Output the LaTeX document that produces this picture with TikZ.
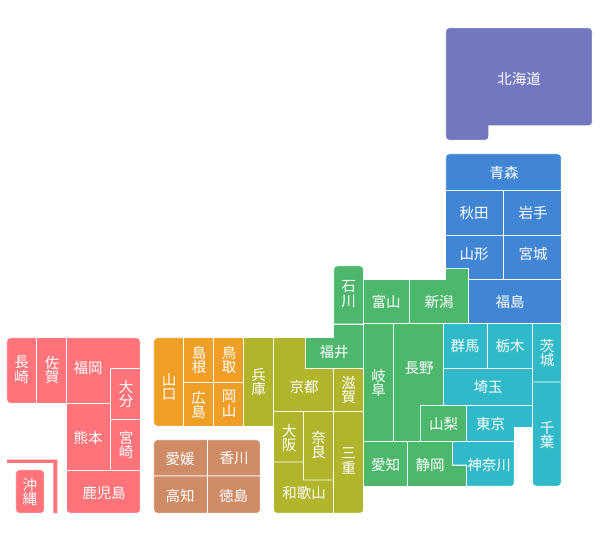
\documentclass[tikz,border=0pt]{standalone}
\usepackage{fontspec}
\setmainfont{Noto Sans CJK JP}
\definecolor{hk}{HTML}{7277C0}
\definecolor{th}{HTML}{4186D5}
\definecolor{cb}{HTML}{4DB86C}
\definecolor{kt}{HTML}{30BAC9}
\definecolor{kk}{HTML}{B0B52C}
\definecolor{cg}{HTML}{EF9E26}
\definecolor{sk}{HTML}{CE8B66}
\definecolor{ks}{HTML}{FF7379}
\tikzset{
  lab/.style={text=white,font=\fontsize{14.5}{14.5}\selectfont,align=center,inner sep=0pt},
  reg/.style={fill=#1,draw=white,line width=0.9pt},
}
\newcommand{\prect}[5]{\path[reg=#1] (#2,#3) rectangle (#4,#5);}
\begin{document}
\begin{tikzpicture}[x=1pt,y=-1pt]
\useasboundingbox (0,0) rectangle (600,543);
% Hokkaido
\path[reg=hk] (445.7,35) .. controls (445.7,27.7) .. (453,27.7) -- (585,27.7) .. controls (592.3,27.7) .. (592.3,35) -- (592.3,118.5) .. controls (592.3,125.8) .. (585,125.8) -- (488.8,125.8) -- (488.8,133) .. controls (488.8,140.3) .. (481.5,140.3) -- (453,140.3) .. controls (445.7,140.3) .. (445.7,133) -- cycle;
% Tohoku
\path[reg=th] (445.7,161) .. controls (445.7,153.7) .. (453,153.7) -- (554,153.7) .. controls (561.3,153.7) .. (561.3,161) -- (561.3,190.5) -- (445.7,190.5) -- cycle;
\prect{th}{445.7}{190.5}{503.5}{235}
\prect{th}{503.5}{190.5}{561.3}{235}
\path[reg=th] (445.7,235) -- (503.5,235) -- (503.5,279) -- (468,279) -- (468,268) -- (445.7,268) -- cycle;
\prect{th}{503.5}{235}{561.3}{279}
\prect{th}{468}{279}{561.3}{323.5}
% Chubu
\path[reg=cb] (333.7,273) .. controls (333.7,265.7) .. (341,265.7) -- (356,265.7) .. controls (363.5,265.7) .. (363.5,273) -- (363.5,324) -- (333.7,324) -- cycle;
\prect{cb}{363.5}{279.7}{409}{323.5}
\path[reg=cb] (409,279.7) -- (445.7,279.7) -- (445.7,268) -- (468,268) -- (468,323.5) -- (409,323.5) -- cycle;
\path[reg=cb] (305,337.7) -- (333.7,337.7) -- (333.7,324) -- (363.5,324) -- (363.5,368) -- (305,368) -- cycle;
\prect{cb}{363.5}{323.5}{393.5}{441.5}
\path[reg=cb] (393.5,323.5) -- (443.5,323.5) -- (443.5,405) -- (420,405) -- (420,441.5) -- (393.5,441.5) -- cycle;
\prect{cb}{420}{405}{466.5}{441.5}
\prect{cb}{363.5}{441.5}{407.5}{486.3}
\path[reg=cb] (407.5,441.5) -- (452.5,441.5) -- (452.5,465) -- (466.5,465) -- (466.5,486.3) -- (407.5,486.3) -- cycle;
% Kanto
\prect{kt}{443.5}{323.5}{487.5}{368}
\prect{kt}{487.5}{323.5}{532}{368}
\prect{kt}{443.5}{368}{532}{405}
\path[reg=kt] (466.5,405) -- (532,405) -- (532,427) -- (514.3,427) -- (514.3,441.5) -- (466.5,441.5) -- cycle;
\path[reg=kt] (452.5,441.5) -- (514.3,441.5) -- (514.3,479.5) .. controls (514.3,486.3) .. (507.5,486.3) -- (466.5,486.3) -- (466.5,465) -- (452.5,465) -- cycle;
\prect{kt}{532.5}{323.5}{561.3}{382}
\path[reg=kt] (532.5,382) -- (561.3,382) -- (561.3,478) .. controls (561.3,486.3) .. (553,486.3) -- (540.5,486.3) .. controls (532.5,486.3) .. (532.5,478) -- cycle;
% Kinki
\prect{kk}{243.5}{337.7}{273.5}{426.3}
\path[reg=kk] (273.5,337.7) -- (305,337.7) -- (305,368) -- (333.5,368) -- (333.5,411.5) -- (273.5,411.5) -- cycle;
\prect{kk}{333.5}{368}{363.5}{411.5}
\prect{kk}{273.5}{411.5}{303.5}{462}
\prect{kk}{303.5}{411.5}{333.5}{480}
\path[reg=kk] (273.5,462) -- (303.5,462) -- (303.5,480) -- (333.5,480) -- (333.5,513.3) -- (280.5,513.3) .. controls (273.5,513.3) .. (273.5,506) -- cycle;
\path[reg=kk] (333.5,411.5) -- (363.5,411.5) -- (363.5,506) .. controls (363.5,513.3) .. (356.5,513.3) -- (333.5,513.3) -- cycle;
% Chugoku
\path[reg=cg] (153.7,345) .. controls (153.7,337.7) .. (161,337.7) -- (183.5,337.7) -- (183.5,426.3) -- (161,426.3) .. controls (153.7,426.3) .. (153.7,419) -- cycle;
\prect{cg}{183.5}{337.7}{213.5}{382}
\prect{cg}{213.5}{337.7}{243.5}{382}
\prect{cg}{183.5}{382}{213.5}{426.3}
\prect{cg}{213.5}{382}{243.5}{426.3}
% Shikoku
\path[reg=sk] (153.7,447) .. controls (153.7,439.7) .. (161,439.7) -- (207.5,439.7) -- (207.5,476) -- (153.7,476) -- cycle;
\path[reg=sk] (207.5,439.7) -- (253,439.7) .. controls (260.3,439.7) .. (260.3,447) -- (260.3,476) -- (207.5,476) -- cycle;
\path[reg=sk] (153.7,476) -- (207.5,476) -- (207.5,513.3) -- (161,513.3) .. controls (153.7,513.3) .. (153.7,506) -- cycle;
\path[reg=sk] (207.5,476) -- (260.3,476) -- (260.3,506) .. controls (260.3,513.3) .. (253,513.3) -- (207.5,513.3) -- cycle;
% Kyushu
\path[reg=ks] (6.7,345) .. controls (6.7,337.7) .. (14,337.7) -- (36.5,337.7) -- (36.5,403.3) -- (14,403.3) .. controls (6.7,403.3) .. (6.7,396) -- cycle;
\prect{ks}{36.5}{337.7}{66.5}{403.3}
\path[reg=ks] (66.5,337.7) -- (133,337.7) .. controls (140.3,337.7) .. (140.3,345) -- (140.3,368.5) -- (110.5,368.5) -- (110.5,403.5) -- (66.5,403.5) -- cycle;
\prect{ks}{110.5}{368.5}{140.3}{419.5}
\prect{ks}{66.5}{403.5}{110.5}{470.5}
\prect{ks}{110.5}{419.5}{140.3}{470.5}
\path[reg=ks] (66.5,470.5) -- (140.3,470.5) -- (140.3,506) .. controls (140.3,513.3) .. (133,513.3) -- (73.5,513.3) .. controls (66.5,513.3) .. (66.5,506) -- cycle;
\path[reg=ks] (23,469.7) -- (37,469.7) .. controls (44.3,469.7) .. (44.3,477) -- (44.3,506) .. controls (44.3,513.3) .. (37,513.3) -- (23,513.3) .. controls (15.7,513.3) .. (15.7,506) -- (15.7,477) .. controls (15.7,469.7) .. (23,469.7) -- cycle;
\fill[ks] (7,459.5) -- (57.3,459.5) -- (57.3,513) -- (53.3,513) -- (53.3,462.8) -- (7,462.8) -- cycle;
% Labels
\node[lab] (hokkaido) at (519,79) {北海道};
\node[lab] (aomori) at (504,173) {青森};
\node[lab] (akita) at (474,213) {秋田};
\node[lab] (iwate) at (533,213) {岩手};
\node[lab] (yamagata) at (474,254) {山形};
\node[lab] (miyagi) at (533,254) {宮城};
\node[lab] (fukushima) at (510,302) {福島};
\node[lab] (ishikawa) at (348.5,294) {石\\川};
\node[lab] (toyama) at (386,302) {富山};
\node[lab] (niigata) at (439,302) {新潟};
\node[lab] (fukui) at (334,352) {福井};
\node[lab] (gifu) at (378.5,383) {岐\\阜};
\node[lab] (nagano) at (419,368) {長野};
\node[lab] (aichi) at (385.5,465) {愛知};
\node[lab] (shizuoka) at (430,465) {静岡};
\node[lab] (yamanashi) at (443.5,424) {山梨};
\node[lab] (gunma) at (465,346) {群馬};
\node[lab] (tochigi) at (510,346) {栃木};
\node[lab] (saitama) at (488,387) {埼玉};
\node[lab] (tokyo) at (490.5,424) {東京};
\node[lab] (kanagawa) at (489,465) {神奈川};
\node[lab] (ibaraki) at (547,353) {茨\\城};
\node[lab] (chiba) at (547,435) {千\\葉};
\node[lab] (hyogo) at (258.5,382) {兵\\庫};
\node[lab] (kyoto) at (304,387) {京都};
\node[lab] (shiga) at (348.5,390) {滋\\賀};
\node[lab] (osaka) at (289,438) {大\\阪};
\node[lab] (nara) at (318.5,445) {奈\\良};
\node[lab] (mie) at (348.5,461) {三\\重};
\node[lab] (wakayama) at (304,493) {和歌山};
\node[lab] (yamaguchi) at (169,387) {山\\口};
\node[lab] (shimane) at (199,360) {島\\根};
\node[lab] (tottori) at (229,360) {鳥\\取};
\node[lab] (hiroshima) at (198.5,405) {広\\島};
\node[lab] (okayama) at (229,404) {岡\\山};
\node[lab] (ehime) at (180,458.5) {愛媛};
\node[lab] (kagawa) at (234,458.5) {香川};
\node[lab] (kochi) at (180,496) {高知};
\node[lab] (tokushima) at (233.5,496) {徳島};
\node[lab] (nagasaki) at (21.5,370) {長\\崎};
\node[lab] (saga) at (52,370) {佐\\賀};
\node[lab] (fukuoka) at (88,368) {福岡};
\node[lab] (oita) at (126,394) {大\\分};
\node[lab] (kumamoto) at (88,438) {熊本};
\node[lab] (miyazaki) at (126,445) {宮\\崎};
\node[lab] (kagoshima) at (104,493) {鹿児島};
\node[lab] (okinawa) at (30,492) {沖\\縄};
\end{tikzpicture}
\end{document}
